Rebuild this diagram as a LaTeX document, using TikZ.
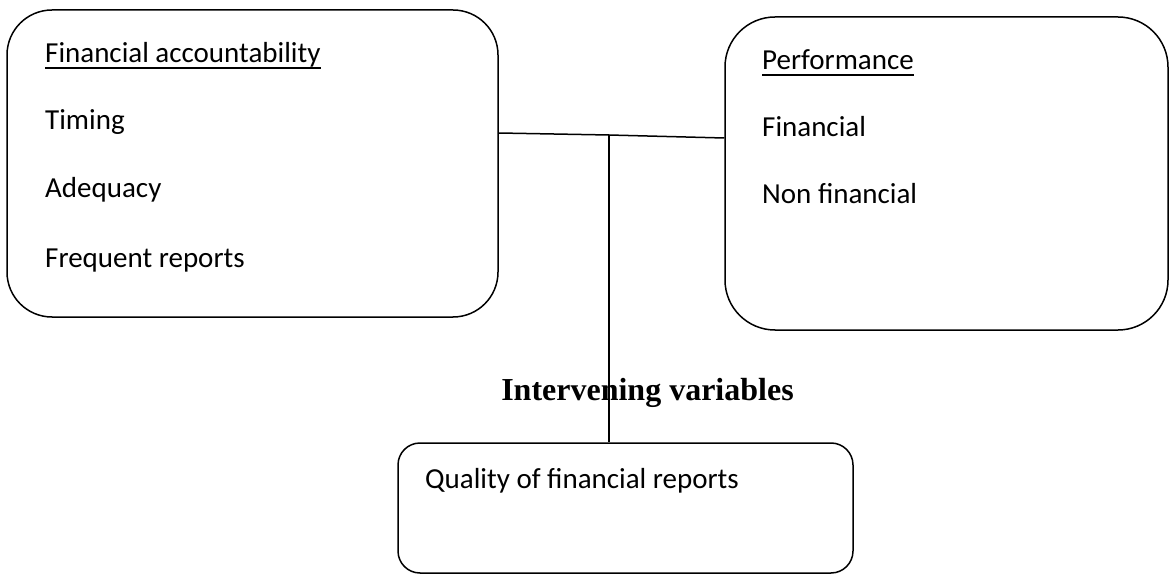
\documentclass[tikz,border=0pt]{standalone}
\usepackage{fontspec}
\setmainfont{Carlito}
\newfontfamily\timesfont{Liberation Serif}
\begin{document}
\begin{tikzpicture}[x=1pt,y=-1pt,
  box/.style={draw=black,line width=1.5pt,rectangle,inner sep=0pt},
  txt/.style={font=\fontsize{29}{34}\selectfont,inner sep=0pt,anchor=base west},
  conn/.style={draw=black,line width=1.5pt},
  uline/.style={draw=black,line width=1.2pt}]
\useasboundingbox (0,0) rectangle (1171,575);
% boxes
\node[box,rounded corners=45pt,minimum width=491pt,minimum height=307pt] (lbox) at (252.5,163.5) {};
\node[box,rounded corners=50pt,minimum width=443pt,minimum height=313pt] (rbox) at (946.5,173.5) {};
\node[box,rounded corners=22pt,minimum width=455pt,minimum height=130pt] (bbox) at (625.5,508) {};
% left texts
\node[txt] (fa) at (45,63) {Financial accountability};
\node[txt] (timing) at (45,130) {Timing};
\node[txt] (adeq) at (45,198) {Adequacy};
\node[txt] (freq) at (45,267) {Frequent reports};
% right texts
\node[txt] (perf) at (762,70) {Performance\ };
\node[txt] (fin) at (762,137) {Financial};
\node[txt] (nonfin) at (762,204) {Non financial};
% bottom text
\node[txt] (qual) at (425,488) {Quality of financial reports};
% intervening label
\node[font=\timesfont\bfseries\fontsize{32}{38}\selectfont,inner sep=0pt,anchor=base] (iv) at (647.5,400) {Intervening variables};
% underlines
\draw[uline] ([yshift=-5pt]fa.base west) -- ([yshift=-5pt]fa.base east);
\draw[uline] ([yshift=-5pt]perf.base west) -- ([yshift=-5pt]perf.base east);
% connectors
\coordinate (j) at (609,135);
\draw[conn] (lbox.east |- 0,133) -- (j) -- (rbox.west |- 0,138);
\draw[conn] (j) -- (j |- bbox.north);
\end{tikzpicture}
\end{document}
